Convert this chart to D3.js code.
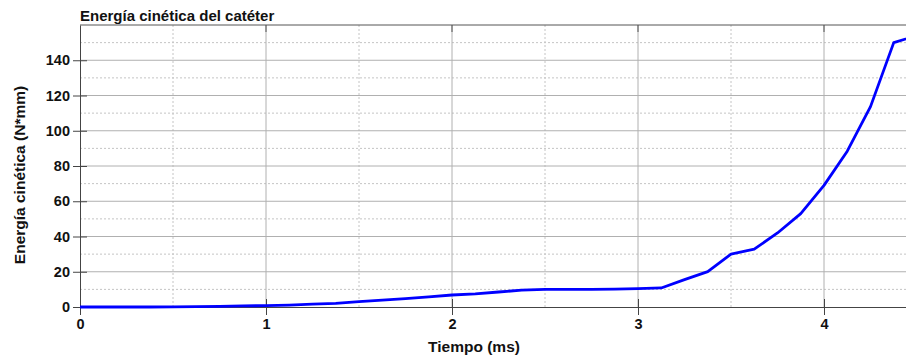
<!DOCTYPE html>
<html>
<head>
<meta charset="utf-8">
<script src="https://cdn.jsdelivr.net/npm/d3@7"></script>
<style>
  body { margin: 0; background: #fff; }
  svg { display: block; font-family: "Liberation Sans", Arial, sans-serif; }
</style>
</head>
<body>
<div id="chart"></div>
<script>
// Data (time in ms, energy in N*mm)
const tiempo = [0, 0.125, 0.25, 0.375, 0.5, 0.625, 0.75, 0.875, 1.0, 1.125, 1.25, 1.375,
  1.5, 1.625, 1.75, 1.875, 2.0, 2.125, 2.25, 2.375, 2.5, 2.625, 2.75, 2.875,
  3.0, 3.125, 3.25, 3.375, 3.5, 3.625, 3.75, 3.875, 4.0, 4.125, 4.25, 4.375, 4.5];
const energia = [0, 0, 0, 0, 0.1, 0.2, 0.3, 0.6, 0.8, 1.1, 1.6, 2.1,
  3.0, 3.9, 4.8, 5.8, 6.8, 7.5, 8.5, 9.6, 10.0, 10.0, 10.0, 10.1,
  10.4, 10.8, 15.5, 20.1, 30.0, 32.8, 42.0, 53.0, 69.0, 88.4, 113.7, 150.0, 154.0];
const xTicks = [0, 1, 2, 3, 4];
const yTicks = [0, 20, 40, 60, 80, 100, 120, 140];
const xMinor = [0.5, 1.5, 2.5, 3.5, 4.5];
const yMinor = [10, 30, 50, 70, 90, 110, 130, 150];

const W = 906, H = 355;
const margin = { top: 25, right: -11, bottom: 48, left: 80 };
const width = W - margin.left - margin.right;
const height = H - margin.top - margin.bottom;

const svg = d3.select('#chart').append('svg')
  .attr('width', W).attr('height', H);

const g = svg.append('g')
  .attr('transform', 'translate(' + margin.left + ',' + margin.top + ')');

const x = d3.scaleLinear().domain([0, 4.5]).range([0, width]);
const y = d3.scaleLinear().domain([0, 160]).range([height, 0]);

// minor dotted grid
g.selectAll('.vminor').data(xMinor).enter().append('line')
  .attr('x1', d => x(d)).attr('x2', d => x(d))
  .attr('y1', 0).attr('y2', height)
  .attr('stroke', '#c4c4c4').attr('stroke-width', 1)
  .attr('stroke-dasharray', '2,2');
g.selectAll('.hminor').data(yMinor).enter().append('line')
  .attr('x1', 0).attr('x2', width)
  .attr('y1', d => y(d)).attr('y2', d => y(d))
  .attr('stroke', '#c4c4c4').attr('stroke-width', 1)
  .attr('stroke-dasharray', '2,2');

// major solid grid
g.selectAll('.vmajor').data(xTicks.slice(1)).enter().append('line')
  .attr('x1', d => x(d)).attr('x2', d => x(d))
  .attr('y1', 0).attr('y2', height)
  .attr('stroke', '#b0b0b0').attr('stroke-width', 1);
g.selectAll('.hmajor').data(yTicks.slice(1)).enter().append('line')
  .attr('x1', 0).attr('x2', width)
  .attr('y1', d => y(d)).attr('y2', d => y(d))
  .attr('stroke', '#b0b0b0').attr('stroke-width', 1);

// top border with inward ticks
g.append('line').attr('x1', 0).attr('x2', width).attr('y1', 0).attr('y2', 0)
  .attr('stroke', '#555');
g.selectAll('.ttick').data(xTicks.slice(1)).enter().append('line')
  .attr('x1', d => x(d)).attr('x2', d => x(d))
  .attr('y1', 0).attr('y2', 7)
  .attr('stroke', '#555');

// axes
const xAxis = d3.axisBottom(x).tickValues(xTicks).tickFormat(d3.format('d'))
  .tickSizeInner(8).tickSizeOuter(0).tickPadding(4);
const yAxis = d3.axisLeft(y).tickValues(yTicks).tickFormat(d3.format('d'))
  .tickSizeInner(7).tickSizeOuter(0).tickPadding(3);

const xNode = g.append('g')
  .attr('transform', 'translate(0,' + height + ')')
  .call(xAxis);
const yNode = g.append('g').call(yAxis);

[xNode, yNode].forEach(n => {
  n.select('.domain').attr('stroke', '#444');
  n.selectAll('.tick line').attr('stroke', '#444');
  n.selectAll('text').attr('fill', '#111')
    .style('font-size', '14.5px').style('font-weight', 'bold')
    .style('font-family', '"Liberation Sans", Arial, sans-serif');
});
// ticks cross the axes (inside part)
xNode.selectAll('.tick').append('line')
  .attr('y1', 0).attr('y2', -8).attr('stroke', '#444');
yNode.selectAll('.tick').append('line')
  .attr('x1', 0).attr('x2', 7).attr('stroke', '#444');

// line
const line = d3.line()
  .x((d, i) => x(tiempo[i]))
  .y(d => y(d));
g.append('path')
  .datum(energia)
  .attr('fill', 'none')
  .attr('stroke', '#0000ff')
  .attr('stroke-width', 2.8)
  .attr('stroke-linejoin', 'round')
  .attr('d', line);

// titles
svg.append('text')
  .attr('x', 80).attr('y', 21)
  .style('font-size', '15px').style('font-weight', 'bold')
  .attr('fill', '#111')
  .text('Energía cinética del catéter');

svg.append('text')
  .attr('x', 474).attr('y', 352)
  .attr('text-anchor', 'middle')
  .style('font-size', '15.5px').style('font-weight', 'bold')
  .attr('fill', '#111')
  .text('Tiempo (ms)');

svg.append('text')
  .attr('transform', 'translate(25,175) rotate(-90)')
  .attr('text-anchor', 'middle')
  .style('font-size', '15.5px').style('font-weight', 'bold')
  .attr('fill', '#111')
  .text('Energía cinética (N*mm)');
</script>
</body>
</html>
